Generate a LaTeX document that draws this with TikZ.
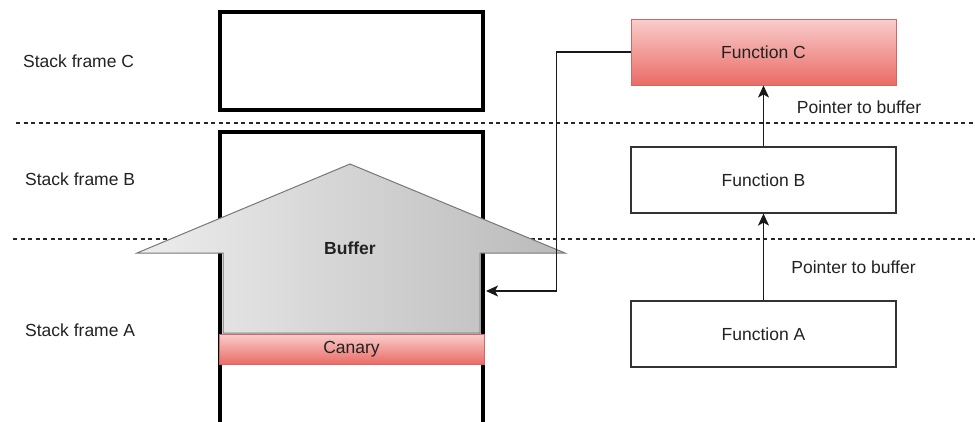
\documentclass[tikz,border=0pt]{standalone}
\usepackage{fontspec}
\setmainfont{Liberation Sans}
\usetikzlibrary{arrows.meta}
\definecolor{redtop}{HTML}{F8CECC}
\definecolor{redbot}{HTML}{EA6B66}
\definecolor{redline}{HTML}{D06868}
\definecolor{greyL}{HTML}{EDEDED}
\definecolor{greyR}{HTML}{BABABA}
\definecolor{greyline}{HTML}{777777}
\definecolor{textc}{HTML}{222222}
\tikzset{
  funcbox/.style={draw=black!80, line width=1.2pt, minimum width=265pt, minimum height=66pt, inner sep=0pt, fill=white, text=textc},
  redbox/.style={top color=redtop, bottom color=redbot, draw=redline, line width=1pt, inner sep=0pt, text=textc},
  framebox/.style={line width=4pt, draw=black},
  sepline/.style={dash pattern=on 4pt off 3.5pt, line width=1.2pt, draw=black!85},
  conn/.style={line width=1.4pt, draw=black!90, arrows={-Stealth[length=12pt,width=11pt,inset=3pt]}},
  lbl/.style={text=textc, inner sep=0pt}
}
\begin{document}
\begin{tikzpicture}[x=1pt,y=-1pt, font=\fontsize{17.5}{21}\selectfont]
\useasboundingbox (0,0) rectangle (975,421);
% separators
\draw[sepline] (16,123) -- (975,123);
\draw[sepline] (13,239) -- (975,239);
% left labels
\node[lbl, anchor=west] (lc) at (23,61) {Stack frame C};
\node[lbl, anchor=west] (lb) at (25,179) {Stack frame B};
\node[lbl, anchor=west] (la) at (25,330) {Stack frame A};
% stack frames
\node[framebox, minimum width=263pt, minimum height=98pt, inner sep=0pt] (frc) at (351.5,61) {};
\draw[framebox] (220,430) -- (220,132) -- (483,132) -- (483,430);
% buffer arrow
\path[left color=greyL, right color=greyR, draw=greyline, line width=1pt]
  (223,333) -- (223,253) -- (137,253) -- (350,164) -- (565,253) -- (480,253) -- (480,333) -- cycle;
\node[lbl, font=\fontsize{17.5}{21}\selectfont\bfseries] (buf) at (350,248) {Buffer};
% canary
\node[redbox, minimum width=265pt, minimum height=30pt] (can) at (351.5,349) {Canary};
% functions
\node[redbox, minimum width=265pt, minimum height=66pt] (fc) at (763.5,52) {Function C};
\node[funcbox] (fb) at (763.5,180) {Function B};
\node[funcbox] (fa) at (763.5,334) {Function A};
\draw[conn] (fa.north) -- (fb.south);
\draw[conn] (fb.north) -- (fc.south);
\node[lbl] (p1) at (859,107) {Pointer to buffer};
\node[lbl] (p2) at (853.5,267) {Pointer to buffer};
% pointer back to buffer
\coordinate (tgt) at (486,291);
\draw[conn] (fc.west) -- ++(-74,0) |- (tgt);
\end{tikzpicture}
\end{document}
